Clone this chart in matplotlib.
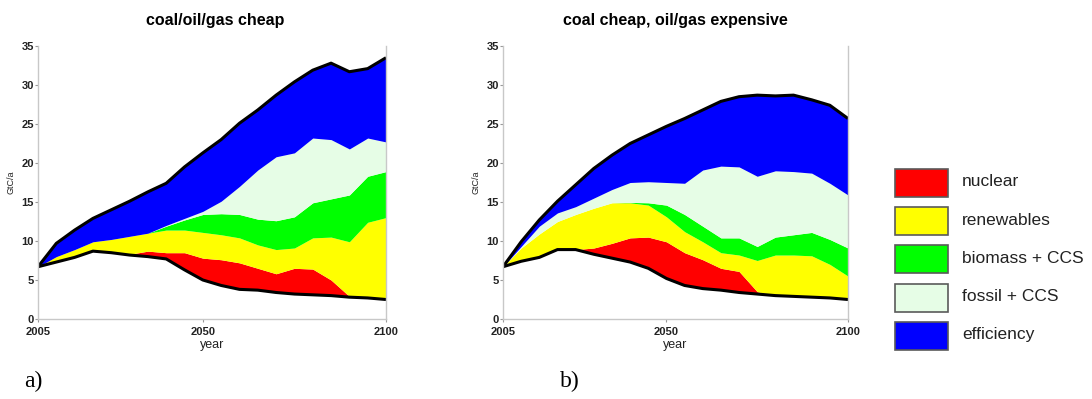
import matplotlib
matplotlib.use("Agg")
import matplotlib.pyplot as plt
from matplotlib.patches import Rectangle

years = [2005, 2010, 2015, 2020, 2025, 2030, 2035, 2040, 2045, 2050,
         2055, 2060, 2065, 2070, 2075, 2080, 2085, 2090, 2095, 2100]

# panel a) coal/oil/gas cheap -- upper edge of every wedge, GtC/a
a_target = [6.7, 7.3, 7.9, 8.7, 8.5, 8.2, 8.0, 7.7, 6.3, 5.0,
            4.3, 3.8, 3.7, 3.4, 3.2, 3.1, 3.0, 2.8, 2.7, 2.5]
a_nuclear = [6.7, 7.3, 7.9, 8.7, 8.5, 8.3, 8.7, 8.5, 8.5, 7.8,
             7.6, 7.2, 6.5, 5.8, 6.5, 6.4, 5.0, 2.9, 2.7, 2.5]
a_renew = [6.7, 8.0, 8.9, 9.9, 10.2, 10.6, 11.0, 11.4, 11.4, 11.1,
           10.8, 10.4, 9.5, 8.9, 9.1, 10.4, 10.5, 9.9, 12.4, 13.0]
a_biomass = [6.7, 8.0, 8.9, 9.9, 10.2, 10.6, 11.0, 11.9, 12.7, 13.4,
             13.5, 13.4, 12.8, 12.6, 13.1, 14.9, 15.4, 15.9, 18.3, 18.9]
a_fossil = [6.7, 8.0, 8.9, 9.9, 10.2, 10.6, 11.0, 12.0, 12.9, 13.8,
            15.1, 17.0, 19.1, 20.8, 21.3, 23.2, 23.0, 21.8, 23.2, 22.7]
a_baseline = [6.7, 9.7, 11.4, 12.9, 14.0, 15.1, 16.3, 17.4, 19.5, 21.3,
              23.0, 25.1, 26.8, 28.7, 30.4, 31.9, 32.8, 31.7, 32.1, 33.5]

# panel b) coal cheap, oil/gas expensive
b_target = [6.7, 7.4, 7.9, 8.9, 8.9, 8.3, 7.8, 7.3, 6.5, 5.2,
            4.3, 3.9, 3.7, 3.4, 3.2, 3.0, 2.9, 2.8, 2.7, 2.5]
b_nuclear = [6.7, 7.4, 7.9, 8.9, 8.9, 9.1, 9.7, 10.4, 10.5, 9.9,
             8.5, 7.6, 6.5, 6.1, 3.5, 3.0, 2.9, 2.8, 2.7, 2.5]
b_renew = [6.7, 9.1, 10.9, 12.5, 13.4, 14.2, 14.9, 14.9, 14.6, 13.1,
           11.2, 9.9, 8.5, 8.2, 7.5, 8.2, 8.2, 8.1, 7.0, 5.5]
b_biomass = [6.7, 9.1, 10.9, 12.5, 13.4, 14.2, 14.9, 14.95, 14.9, 14.6,
             13.4, 11.9, 10.4, 10.4, 9.3, 10.5, 10.8, 11.1, 10.2, 9.1]
b_fossil = [6.7, 9.3, 11.9, 13.6, 14.4, 15.5, 16.6, 17.5, 17.6, 17.5,
            17.4, 19.1, 19.6, 19.5, 18.3, 19.0, 18.9, 18.7, 17.4, 15.9]
b_baseline = [6.7, 9.9, 12.7, 15.1, 17.2, 19.3, 21.0, 22.5, 23.6, 24.7,
              25.7, 26.8, 27.9, 28.5, 28.7, 28.6, 28.7, 28.1, 27.4, 25.7]

labels = ["nuclear", "renewables", "biomass + CCS", "fossil + CCS", "efficiency"]
colors = ["#ff0000", "#ffff00", "#00ff00", "#e6fde6", "#0000ff"]

W, H = 1092, 399
fig = plt.figure(figsize=(W / 100, H / 100), dpi=100)
plt.rcParams["font.family"] = ["Liberation Sans", "DejaVu Sans"]


def draw_panel(rect, edges, title, letter, letter_x, title_x):
    ax = fig.add_axes(rect)
    # fill each wedge between consecutive edges
    for i in range(len(labels)):
        ax.fill_between(years, edges[i], edges[i + 1], color=colors[i],
                        linewidth=0)
    ax.plot(years, edges[0], color="black", lw=2.2, solid_capstyle="butt")
    ax.plot(years, edges[-1], color="black", lw=2.2, solid_capstyle="butt")
    ax.set_xlim(2005, 2100)
    ax.set_ylim(0, 35)
    ax.set_xticks([2005, 2050, 2100])
    ax.set_yticks(range(0, 36, 5))
    ax.tick_params(direction="out", length=2, width=0.8, color="#999999",
                   labelsize=8, labelcolor="#222222")
    ax.tick_params(axis="x", pad=4)
    ax.tick_params(axis="y", pad=1)
    for lab in ax.get_xticklabels() + ax.get_yticklabels():
        lab.set_fontweight("bold")
    ax.spines["top"].set_visible(False)
    for s in ["left", "bottom", "right"]:
        ax.spines[s].set_color("#c8c8c8")
        ax.spines[s].set_linewidth(1.0)
    ax.set_xlabel("year", fontsize=9, labelpad=1, color="#222222")
    ax.set_ylabel("GtC/a", fontsize=6.5, labelpad=4, color="#222222")
    fig.text(title_x / W, 1 - 20 / H, title, ha="center", va="center",
             fontsize=11.5, fontweight="bold")
    fig.text(letter_x / W, 1 - 381 / H, letter, ha="left", va="center",
             fontsize=17, family="Liberation Serif")
    return ax


draw_panel([38 / W, 80 / H, 348 / W, 273 / H],
           [a_target, a_nuclear, a_renew, a_biomass, a_fossil, a_baseline],
           "coal/oil/gas cheap", "a)", 24, 215)
draw_panel([503 / W, 80 / H, 345 / W, 273 / H],
           [b_target, b_nuclear, b_renew, b_biomass, b_fossil, b_baseline],
           "coal cheap, oil/gas expensive", "b)", 560, 675)

# legend drawn in pixel space
lg = fig.add_axes([0, 0, 1, 1])
lg.set_xlim(0, W)
lg.set_ylim(H, 0)
lg.axis("off")
for i, (lab, col) in enumerate(zip(labels, colors)):
    y0 = 169 + i * 38.2
    lg.add_patch(Rectangle((895, y0), 53, 28, facecolor=col,
                           edgecolor="#5a5a5a", lw=1.2))
    lg.text(962, y0 + 13, lab, ha="left", va="center", fontsize=12.5,
            color="#222222")

fig.savefig("out.png", dpi=100)
